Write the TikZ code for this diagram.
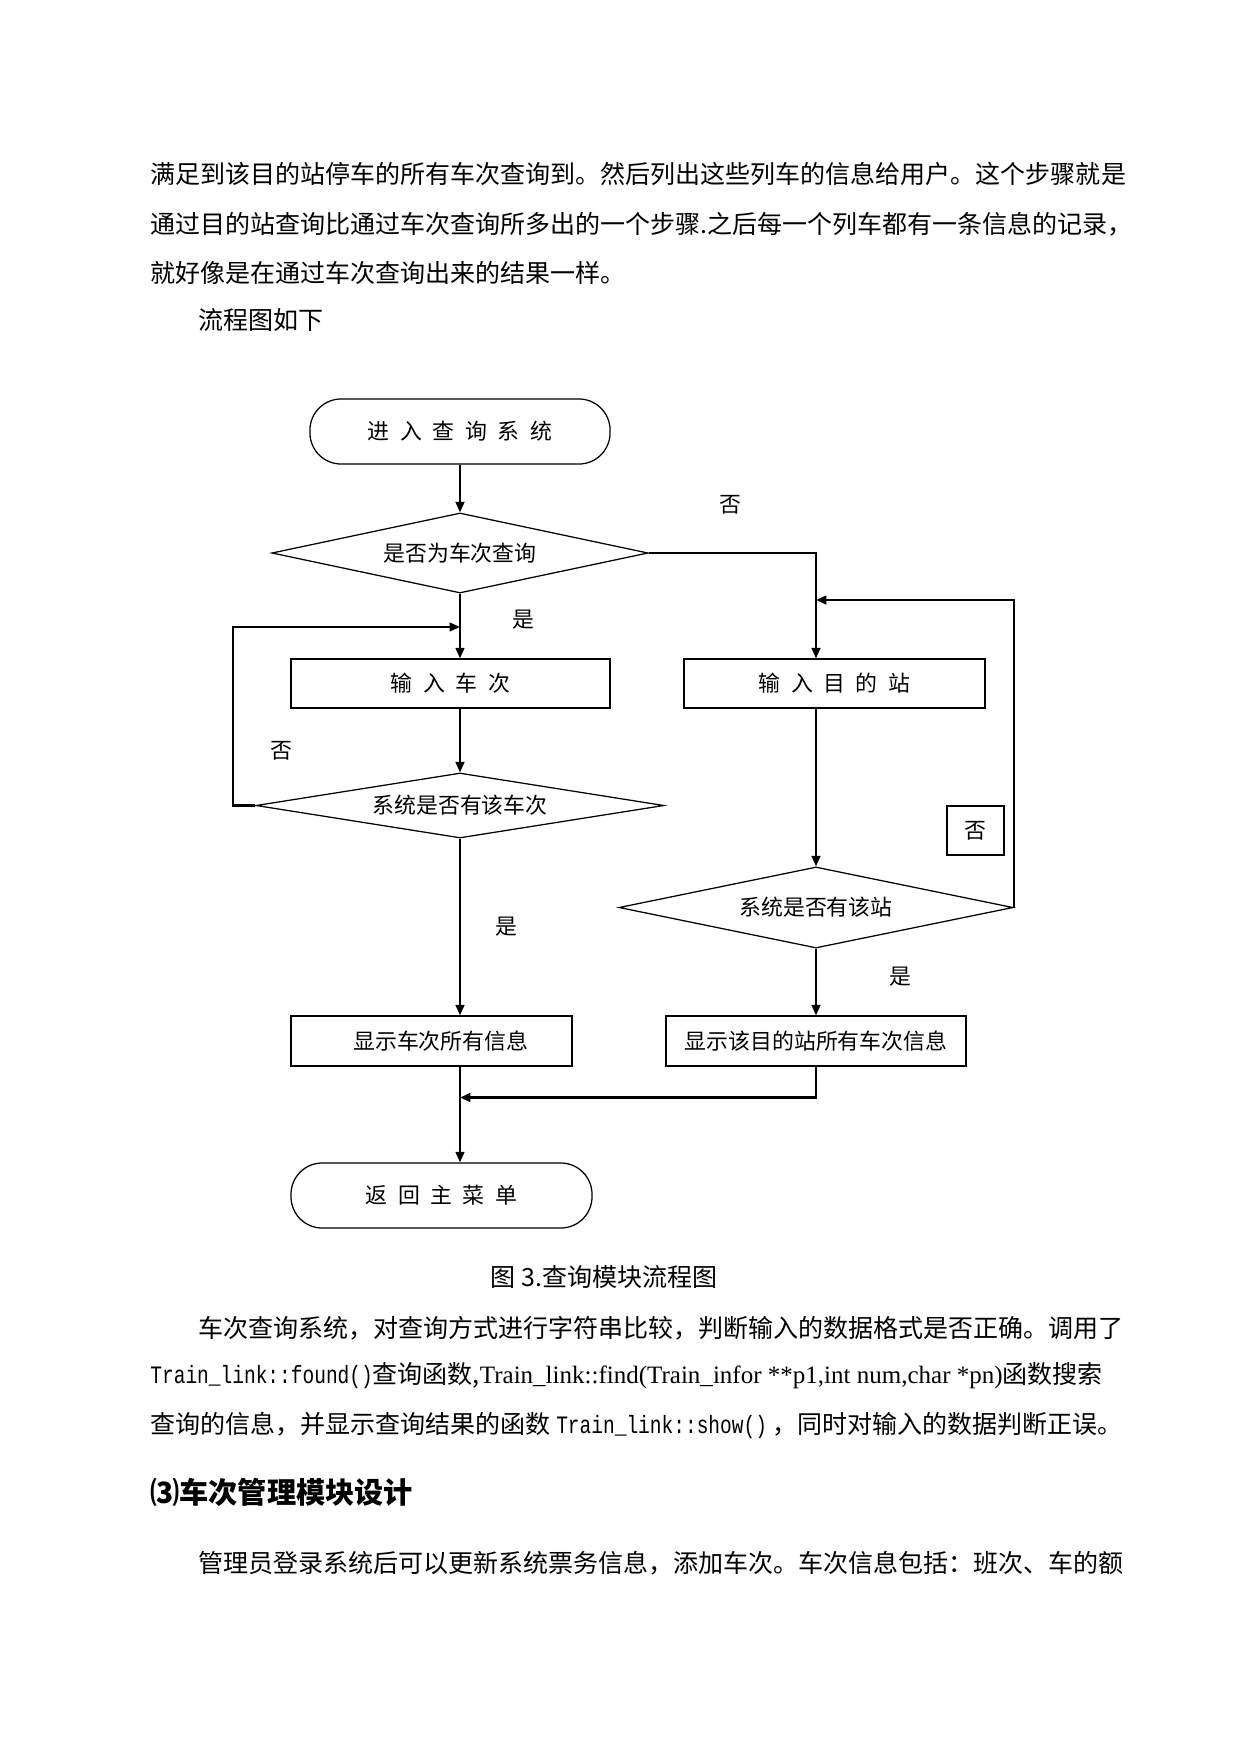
\documentclass[tikz,border=0pt]{standalone}
\usepackage{fontspec}
\setmainfont{Noto Sans CJK SC}
\newfontfamily\spaced[WordSpace=2.15]{Noto Sans CJK SC}
\newfontfamily\latin{Liberation Serif}
\newfontfamily\monofont{Liberation Mono}
\newcommand\narrowtt[1]{\scalebox{0.78}[1]{\monofont #1}}
\usetikzlibrary{shapes.geometric,arrows.meta}
\tikzset{
  box/.style={draw,line width=.6pt,inner sep=0pt,font=\fontsize{10.5}{12}\selectfont},
  wide/.style={font=\spaced\fontsize{10.5}{12}\selectfont},
  term/.style={box,rounded corners=15pt},
  decide/.style={box,diamond,aspect=4.5},
  line/.style={line width=1pt},
  arr/.style={line,-{Triangle[length=5pt,width=4.2pt]}},
  lbl/.style={inner sep=0pt,font=\fontsize{10.5}{12}\selectfont},
  para/.style={anchor=west,inner sep=0pt,font=\fontsize{12}{14}\selectfont}
}
\begin{document}
\begin{tikzpicture}[x=0.4797pt,y=-0.4797pt]
\useasboundingbox (0,0) rectangle (1241,1754);
%
\node[para] (p1) at (150,174) {满足到该目的站停车的所有车次查询到。然后列出这些列车的信息给用户。这个步骤就是};
\node[para] (p2) at (150,224) {通过目的站查询比通过车次查询所多出的一个步骤.之后每一个列车都有一条信息的记录，};
\node[para] (p3) at (150,273) {就好像是在通过车次查询出来的结果一样。};
\node[para] (p4) at (198,320) {流程图如下};
%
\node[term,wide,minimum width=144pt,minimum height=31.2pt] (start) at (460,431.5) {进 入 查 询 系 统};
\node[decide,minimum width=180.5pt,minimum height=38.4pt] (d1) at (460,553) {是否为车次查询};
\node[box,wide,minimum width=153pt,minimum height=23.5pt] (b1) at (450.5,683.5) {输 入 车 次};
\node[decide,minimum width=195.7pt,minimum height=31.2pt] (d2) at (460,805.5) {系统是否有该车次};
\node[box,wide,minimum width=144.4pt,minimum height=23.5pt] (b2) at (834.5,683.5) {输 入 目 的 站};
\node[decide,minimum width=189pt,minimum height=38.9pt] (d3) at (816,907.5) {系统是否有该站};
\node[box,minimum width=134.8pt,minimum height=24pt] (b3) at (431.5,1041) {\hspace{9pt}显示车次所有信息};
\node[box,minimum width=144pt,minimum height=24pt] (b4) at (816,1041) {显示该目的站所有车次信息};
\node[term,wide,minimum width=144.4pt,minimum height=31.2pt] (end) at (441.5,1195.5) {返 回 主 菜 单};
\node[box,minimum width=27.3pt,minimum height=23.5pt] (nobox) at (975.5,830.5) {否};
%
\coordinate (jn1) at (460,627);
\coordinate (jn2) at (460,1097.5);
\coordinate (jn3) at (816,600);
\draw[arr] (start) -- (d1);
\draw[arr] (d1.south) -- (d1.south |- b1.north);
\draw[arr] (d2.west) -- ++(-22,0) |- (jn1);
\draw[arr] (b1.south -| d1.south) -- (d2.north);
\draw[arr] (d2.south) -- (d2.south |- b3.north);
\draw[arr] (b3.south -| d2.south) -- (end.north -| d2.south);
\draw[arr] (d1.east) -| (b2.north -| d3.north);
\draw[arr] (b2.south -| d3.north) -- (d3.north);
\draw[arr] (d3.east) -- (d3.east |- jn3) -- (jn3);
\draw[arr] (d3.south) -- (b4.north);
\draw[arr] (b4.south) |- (jn2);
%
\node[lbl] (no1) at (730,505) {否};
\node[lbl] (yes1) at (523,620) {是};
\node[lbl] (no2) at (281,751) {否};
\node[lbl] (yes2) at (506,927) {是};
\node[lbl] (yes3) at (900,977) {是};
%
\node[para,anchor=center] (cap) at (604,1277) {图 3.查询模块流程图};
\node[para] (q1) at (198,1328) {车次查询系统，对查询方式进行字符串比较，判断输入的数据格式是否正确。调用了};
\node[para] (q2) at (150,1376) {\narrowtt{Train\_link::found()}查询函数,{\latin Train\_link::find(Train\_infor **p1,int num,char *pn)}函数搜索};
\node[para] (q3) at (150,1425) {查询的信息，并显示查询结果的函数 \narrowtt{Train\_link::show()} ，同时对输入的数据判断正误。};
\node[para,font=\fontsize{14}{16}\selectfont\bfseries] (head) at (150,1492) {⑶车次管理模块设计};
\node[para] (q4) at (198,1563) {管理员登录系统后可以更新系统票务信息，添加车次。车次信息包括：班次、车的额};
\end{tikzpicture}
\end{document}
